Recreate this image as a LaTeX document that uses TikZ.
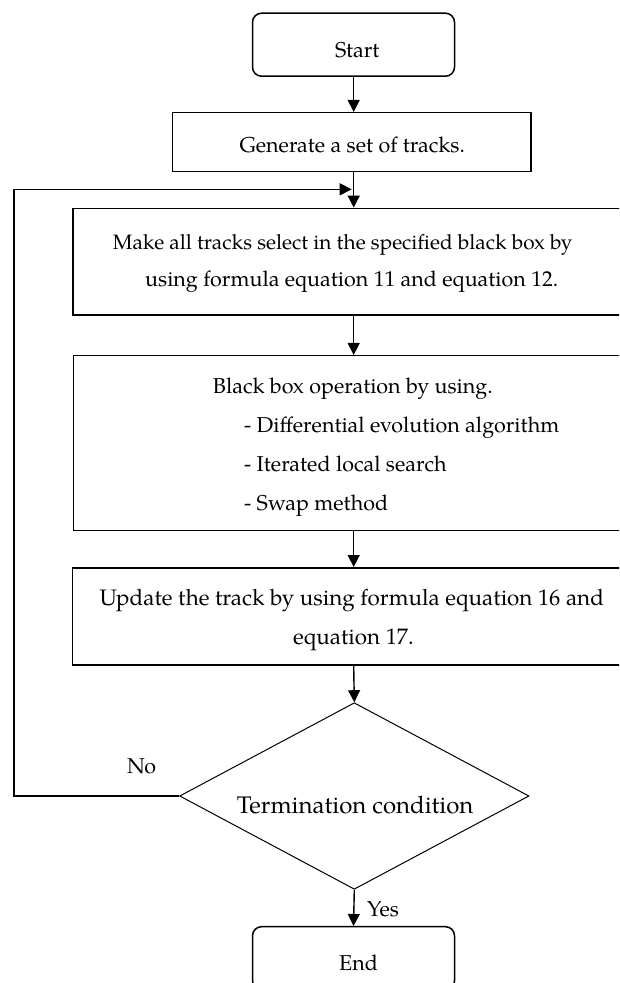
\documentclass[tikz,border=0pt]{standalone}
\usepackage{fontspec}
\setmainfont{TeX Gyre Pagella}
\usetikzlibrary{arrows.meta,shapes.geometric}
\begin{document}
\begin{tikzpicture}[x=1pt,y=-1pt,
  box/.style={draw,line width=1.5pt,inner sep=0pt},
  rbox/.style={box,rounded corners=9pt},
  arr/.style={line width=1.4pt,-{Triangle[length=12pt,width=12pt]}},
  txt/.style={inner sep=0pt,anchor=base west,font=\fontsize{21.5}{25}\selectfont},
  midtxt/.style={txt,font=\fontsize{20.8}{25}\selectfont},
  bigtxt/.style={txt,font=\fontsize{22.4}{26}\selectfont},
  dectxt/.style={txt,font=\fontsize{24}{28}\selectfont}]
\useasboundingbox (0,0) rectangle (619,983);
\clip (0,0) rectangle (619,983);
% boxes
\node[rbox,minimum width=202pt,minimum height=63pt] (start) at (353.5,44.7) {};
\node[box,minimum width=358.5pt,minimum height=59pt] (gen) at (351.8,142.2) {};
\node[box,minimum width=561pt,minimum height=106.7pt] (sel) at (353.5,261.7) {};
\node[box,minimum width=560pt,minimum height=175pt] (bb) at (353.5,443.2) {};
\node[box,minimum width=562pt,minimum height=97.3pt] (upd) at (353.5,616.4) {};
\node[draw,line width=1pt,shape=diamond,inner sep=0pt,minimum width=349.4pt,minimum height=186.6pt] (dec) at (354.3,796) {};
\node[rbox,minimum width=202pt,minimum height=63pt] (end) at (353.5,958.2) {};
% texts
\node[txt] (tstart) at (335,57.5) {Start};
\node[txt] (tgen) at (239.3,152.5) {Generate a set of tracks.};
\node[midtxt] (tsel1) at (112.7,249) {Make all tracks select in the specified black box by};
\node[txt] (tsel2) at (145,286) {using formula equation 11 and equation 12.};
\node[txt] (tbb0) at (212.7,393.3) {Black box operation by using.};
\node[txt] (tbb1) at (244,432.3) {- Differential evolution algorithm};
\node[txt] (tbb2) at (244,471.7) {- Iterated local search};
\node[txt] (tbb3) at (244,510.7) {- Swap method};
\node[bigtxt] (tupd1) at (99.3,605.7) {Update the track by using formula equation 16 and};
\node[bigtxt] (tupd2) at (293,644) {equation 17.};
\node[dectxt] (tdec) at (236.7,813.3) {Termination condition};
\node[txt] (tno) at (127,773.3) {No};
\node[txt] (tyes) at (367,916) {Yes};
\node[txt] (tend) at (339,970) {End};
% connectors
\coordinate (join) at (353.7,189.3);
\coordinate (lf) at (13.8,796);
\draw[arr] (start.south -| join) -- (gen.north -| join);
\draw[arr] (gen.south -| join) -- (sel.north -| join);
\draw[arr] (sel.south -| join) -- (bb.north -| join);
\draw[arr] (bb.south -| join) -- (upd.north -| join);
\draw[arr] (upd.south -| join) -- (dec.north);
\draw[arr] (dec.south) -- (end.north);
\draw[arr,shorten >=2pt] (dec.west) -- (lf) |- (join);
\end{tikzpicture}
\end{document}
